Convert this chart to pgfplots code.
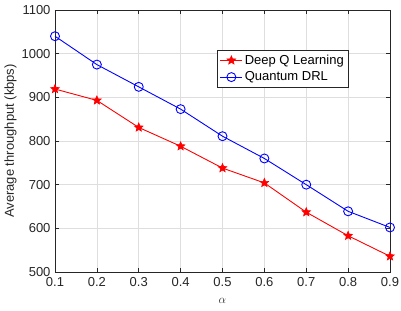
\documentclass[border=0pt]{standalone}
\usepackage{pgfplots}
\pgfplotsset{compat=1.18}
\usepackage{fontspec}
\setmainfont{Liberation Sans}
\definecolor{axgray}{rgb}{0.15,0.15,0.15}
\definecolor{gridgray}{rgb}{0.87,0.87,0.87}
\pgfdeclareplotmark{fstar}{%
  \pgfpathmoveto{\pgfqpointpolar{90}{\pgfplotmarksize}}%
  \pgfpathlineto{\pgfqpointpolar{126}{0.45\pgfplotmarksize}}%
  \pgfpathlineto{\pgfqpointpolar{162}{\pgfplotmarksize}}%
  \pgfpathlineto{\pgfqpointpolar{198}{0.45\pgfplotmarksize}}%
  \pgfpathlineto{\pgfqpointpolar{234}{\pgfplotmarksize}}%
  \pgfpathlineto{\pgfqpointpolar{270}{0.45\pgfplotmarksize}}%
  \pgfpathlineto{\pgfqpointpolar{306}{\pgfplotmarksize}}%
  \pgfpathlineto{\pgfqpointpolar{342}{0.45\pgfplotmarksize}}%
  \pgfpathlineto{\pgfqpointpolar{18}{\pgfplotmarksize}}%
  \pgfpathlineto{\pgfqpointpolar{54}{0.45\pgfplotmarksize}}%
  \pgfpathclose
  \pgfusepathqfillstroke}
\begin{document}
\begin{tikzpicture}
\useasboundingbox (-55bp,-39bp) rectangle (346bp,272bp);
\begin{axis}[
  scale only axis, width=335bp, height=262bp,
  at={(0,0)}, anchor=south west,
  xmin=0.1, xmax=0.9, ymin=500, ymax=1100,
  xtick={0.1,0.2,...,0.9},
  xticklabels={0.1,0.2,0.3,0.4,0.5,0.6,0.7,0.8,0.9},
  ytick={500,600,...,1100},
  /pgf/number format/assume math mode=true,
  /pgf/number format/1000 sep={},
  font=\fontsize{13bp}{15bp}\selectfont,
  tick label style={color=axgray},
  xticklabel style={yshift=-1.5bp},
  yticklabel style={xshift=-1bp},
  grid=major, major grid style={gridgray, line width=0.5bp},
  axis line style={axgray, line width=0.6bp},
  tick style={axgray, line width=0.6bp},
  tick align=inside, major tick length=4bp,
  xtick pos=both, ytick pos=both,
  xlabel={$\alpha$}, ylabel={Average throughput (kbps)},
  xlabel style={at={(axis description cs:0.5,0)}, anchor=north, yshift=-23bp, color=axgray},
  ylabel style={at={(axis description cs:0,0.5)}, anchor=south, yshift=35bp, color=axgray},
  legend image code/.code={\draw[mark repeat=2,mark phase=2] plot coordinates {(0bp,0bp) (11bp,0bp) (22bp,0bp)};},
  legend style={at={(axis cs:0.4873,1008)}, anchor=north west, draw=axgray, line width=0.5bp,
     font=\fontsize{13bp}{15bp}\selectfont, row sep=2bp, inner ysep=2.5bp, inner xsep=2.5bp, cells={anchor=west}},
  legend cell align=left,
]
\addplot[red, line width=0.9bp, mark=fstar, mark size=4.5bp, mark options={draw=red, fill=red, line width=0.6bp}] table {
x y
0.1 919
0.2 893
0.3 831
0.4 788
0.5 738
0.6 704
0.7 637
0.8 583
0.9 536
};
\addplot[blue, line width=0.9bp, mark=o, mark size=4.5bp, mark options={draw=blue, line width=0.9bp}] table {
x y
0.1 1040
0.2 975
0.3 924
0.4 873
0.5 811
0.6 760
0.7 700
0.8 639
0.9 602
};
\legend{Deep Q Learning,Quantum DRL}
\end{axis}
\end{tikzpicture}
\end{document}
